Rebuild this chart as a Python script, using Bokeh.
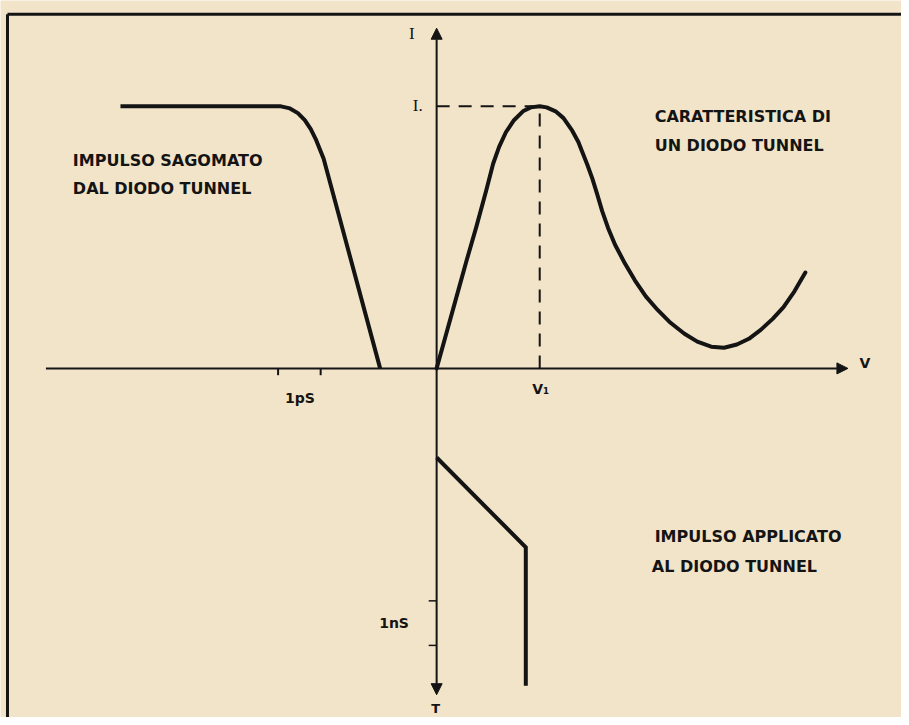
from bokeh.plotting import figure
from bokeh.models import Range1d, Arrow, NormalHead
from bokeh.core.properties import value
from bokeh.embed import file_html
from bokeh.resources import INLINE

# Chart units: V axis with V1 = 1, I axis with peak current I = 1.
# The time axes share the same drawing (1pS on the negative V side, T downwards).

# --- tunnel diode characteristic I(V)
char_v = [0, 0.096, 0.192, 0.288, 0.385, 0.481, 0.548, 0.606, 0.673, 0.750, 0.837,
          0.913, 1.0, 1.067, 1.154, 1.231, 1.317, 1.375, 1.413, 1.462, 1.510, 1.558,
          1.606, 1.663, 1.731, 1.827, 1.923, 2.029, 2.144, 2.269, 2.404, 2.529, 2.663,
          2.788, 2.913, 3.029, 3.144, 3.260, 3.365, 3.471, 3.577]
char_i = [0, 0.136, 0.272, 0.408, 0.540, 0.679, 0.781, 0.845, 0.902, 0.947, 0.981,
          0.996, 1.0, 0.996, 0.981, 0.955, 0.906, 0.864, 0.826, 0.777, 0.725, 0.664,
          0.600, 0.536, 0.472, 0.400, 0.336, 0.275, 0.223, 0.174, 0.132, 0.102, 0.083,
          0.079, 0.091, 0.113, 0.147, 0.189, 0.234, 0.294, 0.366]

# --- shaped pulse (left half)
shaped_t = [-3.067, -1.510, -1.423, -1.346, -1.279, -1.221, -1.173, -1.135, -1.096, -0.548]
shaped_i = [1.0, 1.0, 0.992, 0.974, 0.947, 0.913, 0.875, 0.838, 0.800, 0.0]

# --- applied pulse (lower half)
applied_v = [0.0, 0.865, 0.865]
applied_t = [-0.340, -0.683, -1.211]

# --- peak markers
peak_v = 1.0
peak_i = 1.0

# --- axes extents
x_axis_span = [-3.79, 3.99]
y_axis_span = [-1.245, 1.298]

# --- tick marks
ps_ticks = [-1.538, -1.125]
ns_ticks = [-0.887, -1.057]
tick_len_down = 0.026
tick_len_left = 0.077

# --- frame
frame_left = -4.163
frame_top = 1.351
frame_right = 4.51
frame_bottom = -1.34

# --- labels
axis_label_text = ["V", "V\u2081", "1pS", "1nS"]
axis_label_x = [4.154, 1.01, -1.327, -0.413]
axis_label_y = [0.019, -0.079, -0.113, -0.970]

t_label_x = [-0.010]
t_label_y = [-1.298]

serif_label_text = ["I", "I."]
serif_label_x = [-0.240, -0.183]
serif_label_y = [1.279, 1.004]

note_text = ["IMPULSO SAGOMATO", "DAL DIODO TUNNEL", "CARATTERISTICA DI",
             "UN DIODO TUNNEL", "IMPULSO APPLICATO", "AL DIODO TUNNEL"]
note_x = [-3.529, -3.529, 2.115, 2.115, 2.115, 2.087]
note_y = [0.792, 0.687, 0.962, 0.849, -0.642, -0.755]

BG = "#f2e4c9"
INK = "#141414"

p = figure(width=901, height=717,
           x_range=Range1d(-4.2308, 4.5096), y_range=Range1d(-1.3321, 1.4038),
           x_axis_type=None, y_axis_type=None,
           output_backend="svg", toolbar_location=None, min_border=0)
p.background_fill_color = BG
p.border_fill_color = BG
p.outline_line_color = None
p.grid.visible = False

# frame
p.segment(x0=[frame_left, frame_left], y0=[frame_top, frame_top],
          x1=[frame_right, frame_left], y1=[frame_top, frame_bottom],
          line_color=INK, line_width=3)

# axes with arrows
p.add_layout(Arrow(end=NormalHead(size=11, fill_color=INK, line_color=INK),
                   x_start=x_axis_span[0], y_start=0, x_end=x_axis_span[1], y_end=0,
                   line_color=INK, line_width=2))
p.add_layout(Arrow(end=NormalHead(size=11, fill_color=INK, line_color=INK),
                   x_start=0, y_start=0, x_end=0, y_end=y_axis_span[1],
                   line_color=INK, line_width=2))
p.add_layout(Arrow(end=NormalHead(size=11, fill_color=INK, line_color=INK),
                   x_start=0, y_start=0, x_end=0, y_end=y_axis_span[0],
                   line_color=INK, line_width=2))

# ticks
p.segment(x0=ps_ticks, y0=[0] * len(ps_ticks), x1=ps_ticks,
          y1=[-tick_len_down] * len(ps_ticks), line_color=INK, line_width=2)
p.segment(x0=[0] * len(ns_ticks), y0=ns_ticks, x1=[-tick_len_left] * len(ns_ticks),
          y1=ns_ticks, line_color=INK, line_width=1.5)

# dashed peak guides
p.segment(x0=[0, peak_v], y0=[peak_i, 0], x1=[peak_v, peak_v], y1=[peak_i, peak_i],
          line_color=INK, line_width=2, line_dash="13 9")

# curves
p.line(char_v, char_i, line_color=INK, line_width=4, line_join="round", line_cap="round")
p.line(shaped_t, shaped_i, line_color=INK, line_width=4, line_join="round")
p.line(applied_v, applied_t, line_color=INK, line_width=4, line_join="miter")

# labels
p.text(x=axis_label_x, y=axis_label_y, text=axis_label_text,
       text_font=value("DejaVu Sans"), text_font_size="14px", text_font_style="bold",
       text_align="center", text_baseline="middle", text_color=INK)
p.text(x=t_label_x, y=t_label_y, text=["T"],
       text_font=value("DejaVu Sans"), text_font_size="13px", text_font_style="bold",
       text_align="center", text_baseline="middle", text_color=INK)
p.text(x=serif_label_x, y=serif_label_y, text=serif_label_text,
       text_font=value("Liberation Serif"), text_font_size="17px",
       text_align="center", text_baseline="middle", text_color=INK)
p.text(x=note_x, y=note_y, text=note_text,
       text_font=value("DejaVu Sans"), text_font_size="16px", text_font_style="bold",
       text_align="left", text_baseline="middle", text_color=INK)

html = file_html(p, INLINE)
html = html.replace("<body>", '<body style="background-color:%s;">' % BG, 1)
open("out.html", "w").write(html)
